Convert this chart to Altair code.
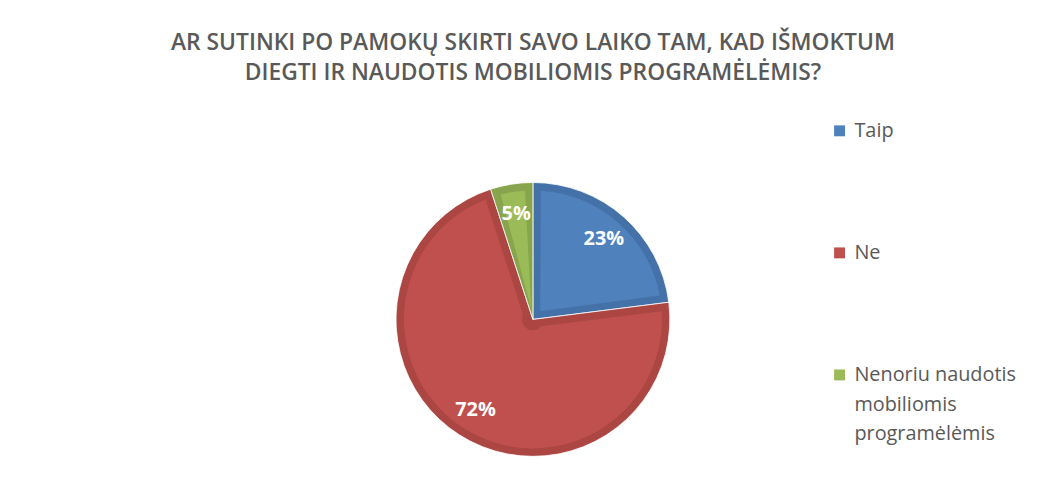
import altair as alt
import pandas as pd

title_lines = [
    "AR SUTINKI PO PAMOKŲ SKIRTI SAVO LAIKO TAM, KAD IŠMOKTUM",
    "DIEGTI IR NAUDOTIS MOBILIOMIS PROGRAMĖLĖMIS?",
]
categories = ["Taip", "Ne", "Nenoriu naudotis\nmobiliomis\nprogramėlėmis"]
values = [23, 72, 5]
pct_labels = ["23%", "72%", "5%"]

light_colors = ["#4F81BD", "#C0504D", "#9BBB59"]
dark_colors = ["#4471A8", "#AB4643", "#88A54D"]

df = pd.DataFrame({
    "category": categories,
    "value": values,
    "label": pct_labels,
    "order": list(range(len(categories))),
})

base = alt.Chart(df).encode(
    theta=alt.Theta("value:Q", stack=True),
    order=alt.Order("order:Q"),
)

dark = base.mark_arc(outerRadius=138, stroke="white", strokeWidth=0.8).encode(
    color=alt.Color("category:N",
                    scale=alt.Scale(domain=categories, range=dark_colors),
                    legend=None)
)

light = base.mark_arc(outerRadius=130, innerRadius=11, padAngle=0.1227).encode(
    color=alt.Color(
        "category:N",
        scale=alt.Scale(domain=categories, range=light_colors),
        legend=alt.Legend(
            title=None,
            orient="none",
            legendX=449,
            legendY=-44,
            direction="vertical",
            symbolType="M-1,-2.1H1V-0.1H-1Z",
            symbolSize=121,
            symbolStrokeWidth=0,
            symbolOpacity=1,
            labelFont="Open Sans",
            labelFontSize=20,
            labelColor="#595959",
            labelBaseline="alphabetic",
            labelExpr="split(datum.label, '\\n')",
            labelLimit=300,
            labelOffset=5,
            rowPadding=103,
        ),
    )
)

text = base.mark_text(
    radius=108, font="Open Sans", fontSize=20, fontWeight="bold", color="white"
).encode(text="label:N")

chart = (
    alt.layer(dark, light, text)
    .resolve_scale(color="independent")
    .properties(
        width=300,
        height=300,
        padding={"left": 379, "top": 162, "right": 362, "bottom": 10},
        autosize=alt.AutoSizeParams(type="none"),
        title=alt.TitleParams(
            text=title_lines,
            anchor="middle",
            frame="group",
            font="Open Sans",
            fontSize=23,
            fontWeight=600,
            color="#595959",
            baseline="bottom",
            offset=19,
            lineHeight=30,
        ),
    )
    .configure_view(strokeWidth=0)
    .configure(style={"guide-label": {"lineHeight": 30}})
)

chart.save("out.html", embed_options={"renderer": "svg", "actions": False})
